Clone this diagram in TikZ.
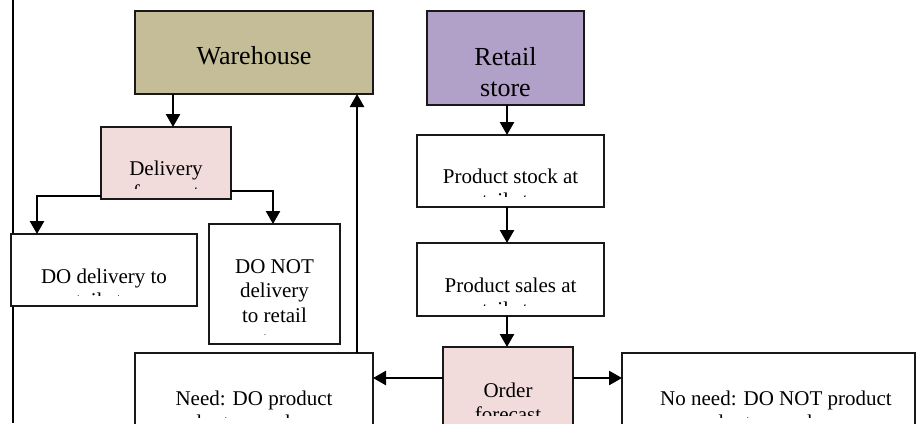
\documentclass[tikz,border=0pt]{standalone}
\usepackage{fontspec}
\setmainfont{Liberation Serif}
\usetikzlibrary{arrows.meta}
\definecolor{whcol}{HTML}{C4BD97}
\definecolor{rscol}{HTML}{B1A0C7}
\definecolor{pkcol}{HTML}{F2DCDB}
\begin{document}
\begin{tikzpicture}[x=1pt,y=-1pt,
  box/.style={draw=black!90, line width=1.3pt, inner sep=0pt, outer sep=0pt, anchor=north west},
  big/.style={font=\fontsize{26}{31}\selectfont},
  small/.style={font=\fontsize{21}{24.5}\selectfont},
  conn/.style={line width=2.5pt, -{Triangle[length=13pt,width=14pt]}},
  txt/.style={anchor=base, inner sep=0pt, outer sep=0pt}]
\useasboundingbox (0,0) rectangle (917,423);
\clip (0,0) rectangle (917,423);
\draw[line width=1.8pt] (13,0) -- (13,423);
% boxes
\node[box, fill=whcol, minimum width=238pt, minimum height=83pt] (wh) at (135,11) {};
\node[box, fill=rscol, minimum width=157pt, minimum height=94pt] (rs) at (427,11) {};
\node[box, fill=pkcol, minimum width=130pt, minimum height=72pt] (df) at (101,127) {};
\node[box, fill=white, minimum width=186pt, minimum height=72pt] (dd) at (11,234) {};
\node[box, fill=white, minimum width=131pt, minimum height=120pt] (dn) at (209,224) {};
\node[box, fill=white, minimum width=187pt, minimum height=72pt] (ps) at (417,135) {};
\node[box, fill=white, minimum width=187pt, minimum height=73pt] (sa) at (417,243) {};
\node[box, fill=pkcol, minimum width=130pt, minimum height=90pt] (of) at (443,347) {};
\node[box, fill=white, minimum width=238pt, minimum height=90pt] (nd) at (135,353) {};
\node[box, fill=white, minimum width=293pt, minimum height=90pt] (nn) at (622,353) {};
% texts
\node[txt, big] (twh) at (254,64) {Warehouse};
\node[txt, big] (trs) at (505.5,65) {\begin{tabular}[t]{@{}c@{}}Retail\\store\end{tabular}};
\begin{scope}
\clip (101,127) rectangle (231,188);
\node[txt, small] (tdf) at (166,175) {\begin{tabular}[t]{@{}c@{}}Delivery\\forecast\end{tabular}};
\end{scope}
\begin{scope}
\clip (11,234) rectangle (197,295);
\node[txt, small] (tdd) at (104,283) {\begin{tabular}[t]{@{}c@{}}DO delivery to\\retail store\end{tabular}};
\end{scope}
\begin{scope}
\clip (209,224) rectangle (340,334);
\node[txt, small] (tdn) at (274.5,273) {\begin{tabular}[t]{@{}c@{}}DO NOT\\delivery\\to retail\\store\end{tabular}};
\end{scope}
\begin{scope}
\clip (417,135) rectangle (604,196);
\node[txt, small] (tps) at (510.5,183) {\begin{tabular}[t]{@{}c@{}}Product stock at\\retail store\end{tabular}};
\end{scope}
\begin{scope}
\clip (417,243) rectangle (604,305);
\node[txt, small] (tsa) at (510.5,292) {\begin{tabular}[t]{@{}c@{}}Product sales at\\retail store\end{tabular}};
\end{scope}
\begin{scope}
\clip (443,347) rectangle (573,415);
\node[txt, small] (tof) at (508,397) {\begin{tabular}[t]{@{}c@{}}Order\\forecast\end{tabular}};
\end{scope}
\begin{scope}
\clip (135,353) rectangle (373,417);
\node[txt, small] (tnd) at (254,405) {\begin{tabular}[t]{@{}c@{}}Need: DO product\\order to warehouse\end{tabular}};
\end{scope}
\begin{scope}
\clip (622,353) rectangle (915,417);
\node[txt, small] (tnn) at (776,405) {\begin{tabular}[t]{@{}c@{}}No need: DO NOT product\\order to warehouse\end{tabular}};
\end{scope}
% connector guides
\coordinate (a1) at (173,0);
\coordinate (dl) at (37,196);
\coordinate (dr) at (273,191);
\coordinate (rx) at (357,0);
\coordinate (ry) at (0,378);
\coordinate (cx) at (507,0);
% connectors
\draw[conn] (wh.south -| a1) -- (df.north -| a1);
\draw[conn] (df.west |- dl) -- (dl) -- (dd.north -| dl);
\draw[conn] (df.east |- dr) -- (dr) -- (dn.north -| dr);
\draw[conn] (nd.north -| rx) -- (wh.south -| rx);
\draw[conn] (of.west |- ry) -- (nd.east |- ry);
\draw[conn] (of.east |- ry) -- (nn.west |- ry);
\draw[conn] (rs.south -| cx) -- (ps.north -| cx);
\draw[conn] (ps.south -| cx) -- (sa.north -| cx);
\draw[conn] (sa.south -| cx) -- (of.north -| cx);
\end{tikzpicture}
\end{document}
